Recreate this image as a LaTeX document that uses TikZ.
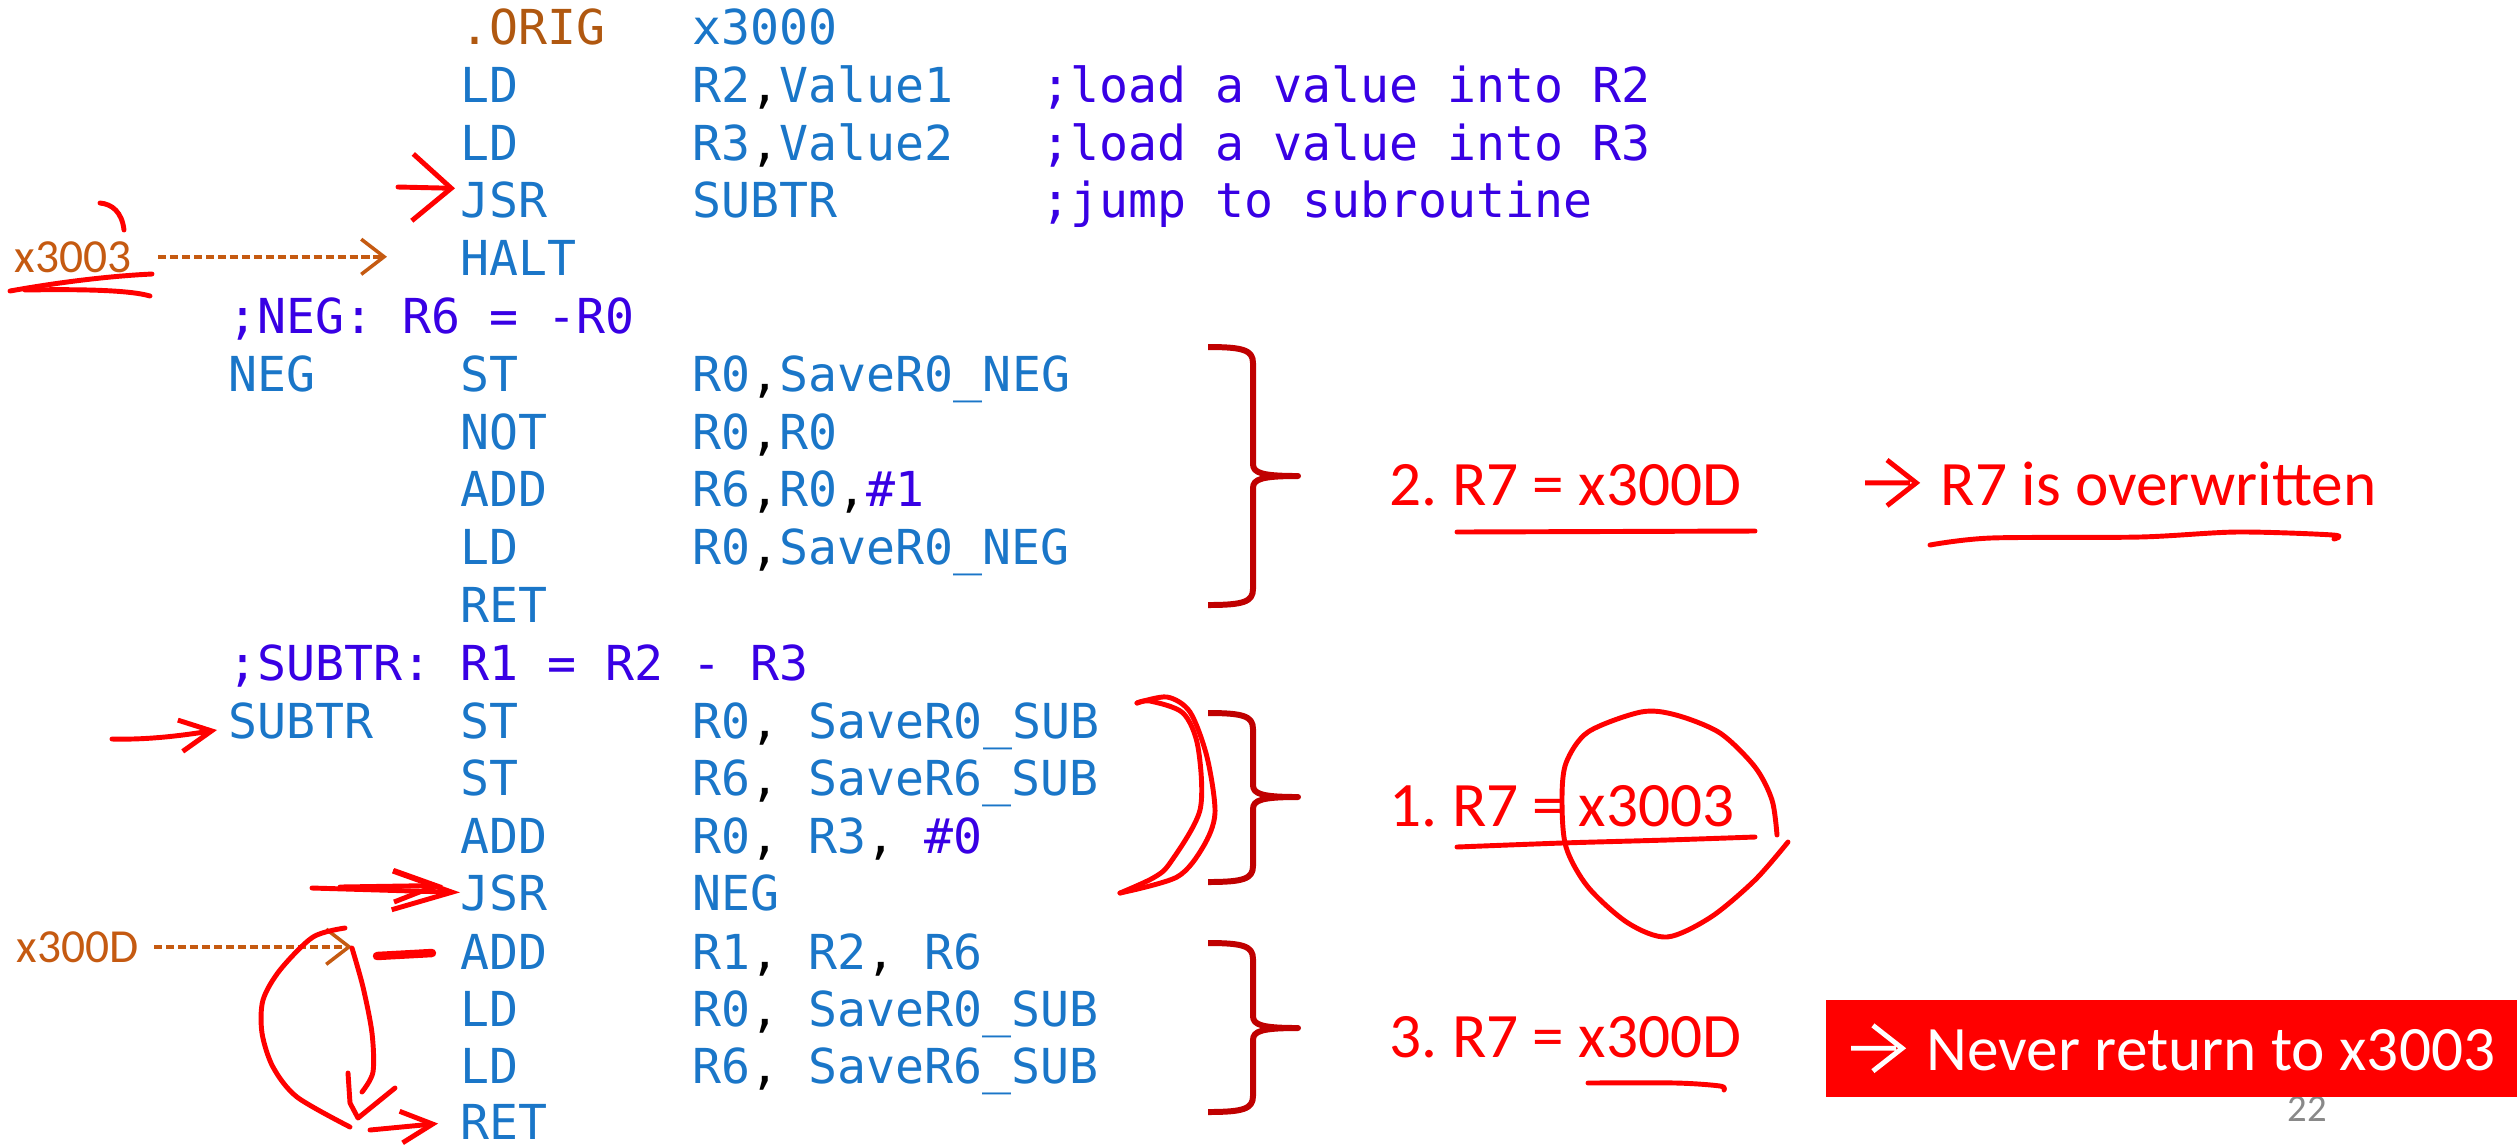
\documentclass[tikz,border=0pt]{standalone}
\usepackage{fontspec}
\setmainfont{Carlito}
\newfontfamily\codefont{DejaVu Sans Mono}
\usetikzlibrary{arrows.meta,positioning}

\definecolor{codeblue}{RGB}{26,118,200}
\definecolor{cmtviolet}{RGB}{56,0,228}
\definecolor{origbrown}{RGB}{176,88,16}
\definecolor{addrorange}{RGB}{197,90,17}
\definecolor{bracered}{RGB}{192,0,0}
\definecolor{inkred}{RGB}{255,0,0}
\definecolor{pagegray}{RGB}{137,137,137}

% code columns
\newlength\codecw \setlength\codecw{0.29cm}
\newcommand\lbl[1]{\makebox[8\codecw][l]{#1}}
\newcommand\opc[1]{\makebox[8\codecw][l]{#1}}
\newcommand\opnd[1]{\makebox[12\codecw][l]{#1}}
\newcommand\cmma{\textcolor{black}{,}}
\newcommand\cmt[1]{\textcolor{cmtviolet}{#1}}
\newcommand\chev{\tikz[x=1pt,y=1pt,baseline=0pt]\draw[line width=1.4pt] (0,6.3)--(12.8,6.3) (6.2,12.8)--(14.5,6.3)--(6.2,-0.2);\hspace{0.35em}}
\newcommand\sidebrace[3]{%
  \draw[curly] (1208,#1) .. controls (1243,#1) and (1253,#1+3) .. (1253,#1+16)
    -- (1253,#2-12) .. controls (1253,#2-3) and (1262,#2) .. (1298,#2)
    .. controls (1262,#2) and (1253,#2+3) .. (1253,#2+12)
    -- (1253,#3-16) .. controls (1253,#3-3) and (1243,#3) .. (1208,#3);}
\frenchspacing

\begin{document}
\begin{tikzpicture}[
  x=0.01cm, y=-0.01cm,
  code/.style={font=\codefont\fontsize{13.7}{16}\selectfont, text=codeblue, inner sep=0pt,
    anchor=base west, text height=10pt, text depth=0pt},
  addr/.style={font=\fontsize{13.5}{16}\selectfont, text=addrorange, inner sep=0pt, anchor=base west},
  note/.style={font=\fontsize{18}{22}\selectfont, text=inkred, inner sep=0pt, anchor=base west},
  addrarrow/.style={addrorange, line width=1pt, dash pattern=on 2.3pt off 1.1pt,
    -{Straight Barb[length=6.5pt, width=10pt]}},
  ink/.style={inkred, line width=1.4pt, line cap=round, line join=round},
  arrow/.style={ink, -{Straight Barb[length=9pt, width=9pt]}},
  curly/.style={bracered, line width=1.7pt, line join=round}
]
\useasboundingbox (0,0) rectangle (2517,1147);

% Main program
\node[code] (orig) at (460,44.5) {\opc{\textcolor{origbrown}{.ORIG}}x3000};
\node[code] (ld1) at (460,102.3) {\opc{LD}\opnd{R2\cmma Value1}\cmt{;load a value into R2}};
\node[code] (ld2) at (460,160.1) {\opc{LD}\opnd{R3\cmma Value2}\cmt{;load a value into R3}};
\node[code] (jsr1) at (460,217.9) {\opc{JSR}\opnd{SUBTR}\cmt{;jump to subroutine}};
\node[code] (halt) at (460,275.7) {HALT};

% NEG
\node[code, text=cmtviolet] (negc) at (228,333.5) {;NEG: R6 = -R0};
\node[code] (neg) at (228,391.3) {\lbl{NEG}\opc{ST}R0\cmma SaveR0\_NEG};
\node[code] (not) at (460,449.1) {\opc{NOT}R0\cmma R0};
\node[code] (add1) at (460,506.9) {\opc{ADD}R6\cmma R0\cmma\cmt{\#1}};
\node[code] (ld3) at (460,564.7) {\opc{LD}R0\cmma SaveR0\_NEG};
\node[code] (ret1) at (460,622.5) {RET};

% SUBTR
\node[code, text=cmtviolet] (subc) at (228,680.3) {;SUBTR: R1 = R2 - R3};
\node[code] (subtr) at (228,738.1) {\lbl{SUBTR}\opc{ST}R0\cmma{} SaveR0\_SUB};
\node[code] (st2) at (460,795.9) {\opc{ST}R6\cmma{} SaveR6\_SUB};
\node[code] (add2) at (460,853.7) {\opc{ADD}R0\cmma{} R3\cmma{} \cmt{\#0}};
\node[code] (jsr2) at (460,910) {\opc{JSR}NEG};
\node[code] (add3) at (460,969.3) {\opc{ADD}R1\cmma{} R2\cmma{} R6};
\node[code] (ld4) at (460,1026.5) {\opc{LD}R0\cmma{} SaveR0\_SUB};
\node[code] (ld5) at (460,1083.5) {\opc{LD}R6\cmma{} SaveR6\_SUB};
\node[code] (ret2) at (460,1139) {RET};

% Return addresses
\node[addr] (ra1) at (14,272) {x3003};
\node[addr] (ra2) at (16,962) {x300D};
\draw[addrarrow, shorten <=0.26cm, shorten >=0.73cm] (ra1.east) -- (ra1.east -| halt.west);
\draw[addrarrow, shorten <=0.15cm, shorten >=1.08cm] (ra2.east) -- (ra2.east -| add3.west);

% Braces and notes
\sidebrace{347}{476}{605}
\sidebrace{713}{797}{882}
\sidebrace{943}{1028}{1112}
\node[note] (r7b) at (1389,505) {2. R7 = x300D};
\node[note, right=1.2cm of r7b.base east, anchor=base west] (ovw) {\chev R7 is overwritten};
\node[note] (r7a) at (1389,826) {1. R7 = x3003};
\node[note] (r7c) at (1389,1057) {3. R7 = x300D};
\node[font=\fontsize{11}{13}\selectfont, text=pagegray, inner sep=0pt, anchor=base] (pgnum) at (2307,1121) {22};
\node[anchor=north west, fill=inkred, text=white, font=\fontsize{18}{22}\selectfont,
  minimum width=6.92cm, minimum height=0.97cm, inner sep=0pt] (never) at (1825,999)
  {\chev Never return to x3003};

% Hand-drawn marks
\coordinate (t1) at (398,187);
\coordinate (t2) at (112,739);
\coordinate (t3) at (312,888);
\coordinate (t4) at (340,887);
\coordinate (t5) at (370,1130);
\draw[ink, -{Straight Barb[length=11pt, width=19pt]}] (t1) -- ([shift={(-5,-12)}]jsr1.west);
\draw[arrow] (t2) .. controls (150,740) and (185,735) .. ([shift={(-11,9.5)}]subtr.west);
\draw[ink, -{Straight Barb[length=17pt, width=11pt]}] (t3) -- (jsr2.west);
\draw[ink, -{Straight Barb[length=12pt, width=9pt]}] (t4) -- ([shift={(-17,-7)}]jsr2.west);
\draw[arrow, shorten >=0.22cm] (t5) -- (ret2.west);

\draw[ink] (100,203) .. controls (112,204) and (122,212) .. (124,230);
\draw[ink] (10,291) .. controls (60,282) and (110,276) .. (152,274);
\draw[ink] (25,290) .. controls (80,289) and (130,290) .. (150,296);

\draw[ink] plot[smooth] coordinates {(1137,703) (1167,697) (1190,712) (1207,757) (1215,813) (1203,847) (1177,877) (1120,893)};
\draw[ink] plot[smooth] coordinates {(1120,893) (1153,878) (1170,863) (1200,810) (1198,747) (1183,713) (1150,701) (1137,703)};

\draw[ink, line width=2.4pt] (377,956) -- (432,953);
\draw[ink] plot[smooth] coordinates {(345,928) (313,937) (280,970) (263,1000) (262,1033) (273,1067) (297,1097) (350,1127)};
\draw[ink] plot[smooth] coordinates {(352,948) (363,987) (372,1033) (373,1072) (362,1092)};
\draw[ink] (348,1073) -- (350,1103) -- (358,1118) -- (395,1088);

\draw[ink] (1457,532) -- (1755,531);
\draw[ink] plot[smooth] coordinates {(1930,545) (1991,538) (2140,537) (2237,532) (2333,535) (2334,539)};
\draw[ink] plot[smooth] coordinates {(1457,847) (1562,843) (1667,840) (1755,837)};
\draw[ink] plot[smooth] coordinates {(1777,835) (1772,800) (1755,767) (1720,733) (1676,715) (1641,712) (1588,732) (1566,763) (1562,800) (1566,847) (1588,887) (1628,923) (1667,937) (1711,917) (1755,880) (1788,842)};
\draw[ink] plot[smooth] coordinates {(1588,1083) (1676,1083) (1720,1086) (1724,1090)};

\end{tikzpicture}
\end{document}
